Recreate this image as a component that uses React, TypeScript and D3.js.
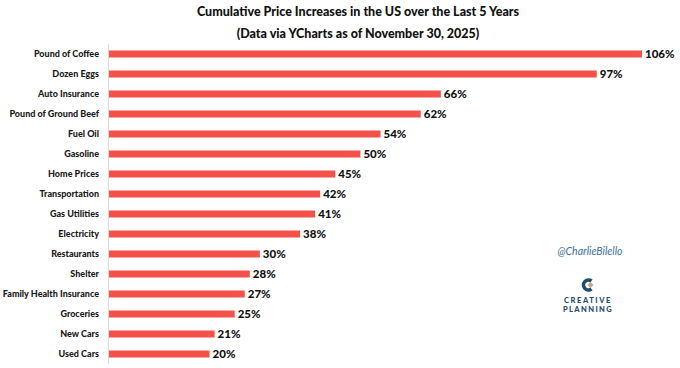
import React from 'react';
import * as d3 from 'd3';

const categories = [
  'Pound of Coffee', 'Dozen Eggs', 'Auto Insurance', 'Pound of Ground Beef', 'Fuel Oil',
  'Gasoline', 'Home Prices', 'Transportation', 'Gas Utilities', 'Electricity',
  'Restaurants', 'Shelter', 'Family Health Insurance', 'Groceries', 'New Cars', 'Used Cars',
];
const increases = [106, 97, 66, 62, 54, 50, 45, 42, 41, 38, 30, 28, 27, 25, 21, 20];
const titleLines = [
  'Cumulative Price Increases in the US over the Last 5 Years',
  '(Data via YCharts as of November 30, 2025)',
];

const width = 680;
const height = 368;
const font = 'Lato, "Open Sans", sans-serif';

export default function App() {
  const x = d3.scaleLinear().domain([0, 106]).range([109, 642]);
  const y = d3.scaleBand().domain(categories).range([44, 364]).paddingInner(0.65).paddingOuter(0.325);
  const bh = y.bandwidth();

  return (
    <svg width={width} height={height} style={{ position: 'absolute', left: 0, top: 0, background: '#fff' }}>
      <rect width={width} height={height} fill="#fff" />
      {titleLines.map((t, i) => (
        <text key={t} x={358} y={16 + i * 22} textAnchor="middle" fontFamily={font} fontWeight="900"
          fontSize={12.5} fill="#111">{t}</text>
      ))}
      <line x1={108.5} x2={108.5} y1={44} y2={364} stroke="#d9d9d9" />
      {categories.map((c, i) => {
        const cy = (y(c) as number) + bh / 2;
        return (
          <g key={c}>
            <text x={99} y={cy} dy="0.35em" textAnchor="end" fontFamily={font} fontWeight="900"
              fontSize={9} fill="#1a1a1a">{c}</text>
            <rect x={x(0)} y={y(c)} width={x(increases[i]) - x(0)} height={bh} fill="#f5514b" />
            <text x={x(increases[i]) + 3} y={cy} dy="0.38em" fontFamily={font} fontWeight="900"
              fontSize={11.5} fill="#111">{increases[i]}%</text>
          </g>
        );
      })}
      <text x={590} y={251} dy="0.35em" textAnchor="middle" fontFamily={font} fontStyle="italic"
        fontSize={10.5} fill="#3c6f97">@CharlieBilello</text>
      <g transform="translate(588,285)">
        <path d="M3.5,-4 A5,5 0 1 0 3.5,4" fill="none" stroke="#1f4e6b" strokeWidth={3.6} />
        <path d="M2.5,-3 L5.5,0 L2.5,3 L-0.5,0 Z" fill="#c8a77e" />
      </g>
      <text x={588} y={300} dy="0.35em" textAnchor="middle" fontFamily={font} fontWeight="900"
        fontSize={7.5} letterSpacing={1.6} fill="#1f4e6b">CREATIVE</text>
      <text x={588} y={309} dy="0.35em" textAnchor="middle" fontFamily={font} fontWeight="900"
        fontSize={7.5} letterSpacing={1.4} fill="#1f4e6b">PLANNING</text>
    </svg>
  );
}
